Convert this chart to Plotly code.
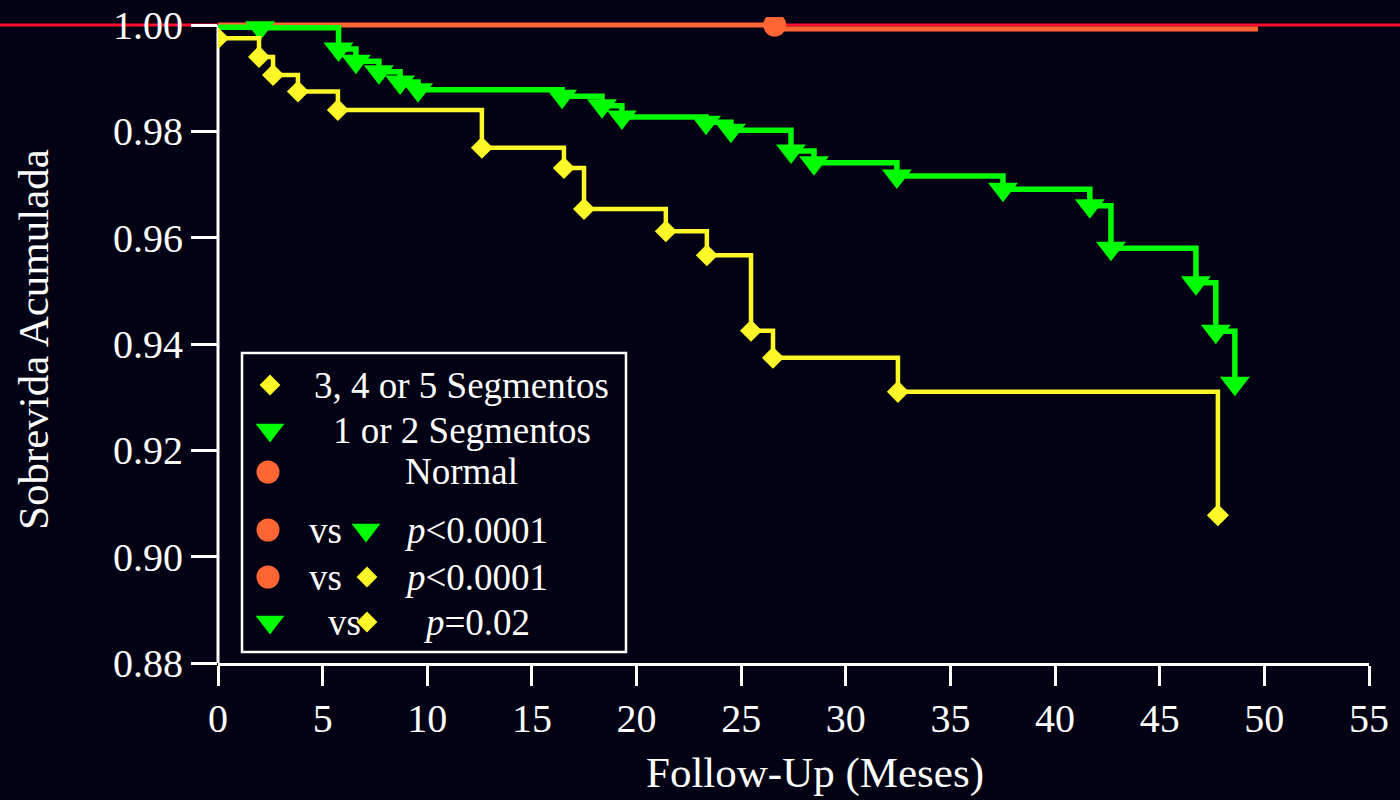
import plotly.graph_objects as go

# ---------------- data ----------------
# 3, 4 or 5 Segmentos (Kaplan-Meier steps)
seg345_time = [0.0, 1.96, 2.63, 3.82, 5.73, 12.61, 16.53, 17.49, 21.40, 23.36, 25.47, 26.52, 32.49, 47.78]
seg345_surv = [0.9975, 0.9940, 0.9906, 0.9875, 0.9840, 0.9769, 0.9731, 0.9654, 0.9612, 0.9567, 0.9425, 0.9374, 0.9310, 0.9078]

# 1 or 2 Segmentos
seg12_time = [0.0, 2.01, 5.76, 6.59, 7.69, 8.70, 9.56, 16.44, 18.35, 19.30, 23.32, 24.51, 27.38, 28.48,
              32.44, 37.51, 41.66, 42.67, 46.73, 47.68, 48.59]
seg12_surv = [0.9996, 0.9995, 0.9955, 0.9932, 0.9912, 0.9893, 0.9878, 0.9866, 0.9848, 0.9827, 0.9817, 0.9802,
              0.9763, 0.9741, 0.9716, 0.9691, 0.9660, 0.9580, 0.9515, 0.9424, 0.9326]

# Normal
normal_time = [0.0, 26.6, 49.7]
normal_surv = [1.0, 1.0, 0.99925]

x_ticks = [0, 5, 10, 15, 20, 25, 30, 35, 40, 45, 50, 55]
y_ticks = [0.88, 0.90, 0.92, 0.94, 0.96, 0.98, 1.00]
y_tick_text = ["0.88", "0.90", "0.92", "0.94", "0.96", "0.98", "1.00"]

legend_rows = ["3, 4 or 5 Segmentos", "1 or 2 Segmentos", "Normal"]
comparisons = ["<i>p</i>&lt;0.0001", "<i>p</i>&lt;0.0001", "<i>p</i>=0.02"]

# ---------------- style ----------------
BG = "#020214"
WHITE = "#ffffff"
YELLOW = "#fff828"
GREEN = "#00ff00"
ORANGE = "#ff6633"
RED = "#ff1030"
FONT = "Liberation Serif, Times New Roman, serif"

W, H = 1400, 800
L, R, T, B = 218, 31, 17, 137
PW, PH = W - L - R, H - T - B
Y0 = 0.88
Y_PER_PX = 0.12 / 638.0
Y1 = Y0 + PH * Y_PER_PX


def px(xpix):
    return (xpix - L) / PW


def py(ypix):
    return (H - B - ypix) / PH


def yval_paper(v):
    return (v - Y0) / (Y1 - Y0)


fig = go.Figure()

fig.add_trace(go.Scatter(
    x=normal_time, y=normal_surv, mode="lines+markers", line_shape="vh",
    line=dict(color=ORANGE, width=5),
    marker=dict(symbol="circle", color=ORANGE, size=[0, 23, 0], opacity=1, line=dict(width=0)),
    hoverinfo="skip", showlegend=False))

fig.add_trace(go.Scatter(
    x=seg12_time, y=seg12_surv, mode="lines+markers", line_shape="hv",
    line=dict(color=GREEN, width=5.5),
    marker=dict(symbol="triangle-down", color=GREEN, opacity=1, line=dict(width=0),
                size=[0] + [26] * (len(seg12_time) - 1)),
    hoverinfo="skip", showlegend=False))

fig.add_trace(go.Scatter(
    x=seg345_time, y=seg345_surv, mode="lines+markers", line_shape="hv",
    line=dict(color=YELLOW, width=4.5),
    marker=dict(symbol="diamond", color=YELLOW, size=17, opacity=1, line=dict(width=0)),
    hoverinfo="skip", showlegend=False))

# ---------- custom legend (overlay paper-like axes) ----------
row_y = [385, 430, 472, 530, 577, 622]
leg_marks = [
    (270, row_y[0], "diamond", YELLOW, 16),
    (270, row_y[1], "triangle-down", GREEN, 25),
    (268, row_y[2], "circle", ORANGE, 23),
    (268, row_y[3], "circle", ORANGE, 23),
    (366, row_y[3], "triangle-down", GREEN, 25),
    (268, row_y[4], "circle", ORANGE, 23),
    (367, row_y[4], "diamond", YELLOW, 16),
    (270, row_y[5], "triangle-down", GREEN, 25),
    (367, row_y[5], "diamond", YELLOW, 16),
]
fig.add_trace(go.Scatter(
    x=[px(m[0]) for m in leg_marks], y=[py(m[1]) for m in leg_marks],
    mode="markers", xaxis="x2", yaxis="y2",
    marker=dict(symbol=[m[2] for m in leg_marks], color=[m[3] for m in leg_marks],
                size=[m[4] for m in leg_marks], opacity=1, line=dict(width=0)),
    hoverinfo="skip", showlegend=False))

shapes = [
    # red reference line at 1.00, across the whole figure
    dict(type="line", xref="paper", yref="paper", x0=px(0), x1=px(W),
         y0=yval_paper(1.0), y1=yval_paper(1.0), line=dict(color=RED, width=3), layer="below"),
    # y axis line from 0.88 to 1.00
    dict(type="line", xref="paper", yref="paper", x0=0, x1=0,
         y0=0, y1=yval_paper(1.0), line=dict(color=WHITE, width=3), layer="below"),
    # legend box
    dict(type="rect", xref="paper", yref="paper", x0=px(242), x1=px(626),
         y0=py(652), y1=py(353), line=dict(color=WHITE, width=2.5), fillcolor=BG, layer="below"),
]

ann = []
leg_font = dict(family=FONT, size=37, color=WHITE)
for i, txt in enumerate(legend_rows):
    ann.append(dict(xref="paper", yref="paper", x=px(461.5), y=py(row_y[i]), text=txt,
                    showarrow=False, xanchor="center", yanchor="middle", font=leg_font))
vs_x = [325, 325, 344]
p_x = [402, 402, 421]
for j in range(3):
    ann.append(dict(xref="paper", yref="paper", x=px(vs_x[j]), y=py(row_y[3 + j]), text="vs",
                    showarrow=False, xanchor="center", yanchor="middle", font=leg_font))
    ann.append(dict(xref="paper", yref="paper", x=px(p_x[j]), y=py(row_y[3 + j]), text=comparisons[j],
                    showarrow=False, xanchor="left", yanchor="middle", font=leg_font))

# axis titles
ann.append(dict(xref="paper", yref="paper", x=px(815), y=py(773), text="Follow-Up (Meses)",
                showarrow=False, xanchor="center", yanchor="middle",
                font=dict(family=FONT, size=43, color=WHITE)))
ann.append(dict(xref="paper", yref="paper", x=px(33), y=py(340), text="Sobrevida Acumulada",
                showarrow=False, xanchor="center", yanchor="middle", textangle=-90,
                font=dict(family=FONT, size=43, color=WHITE)))

fig.update_layout(
    template="none",
    width=W, height=H,
    margin=dict(l=L, r=R, t=T, b=B, autoexpand=False),
    paper_bgcolor=BG, plot_bgcolor=BG,
    font=dict(family=FONT, color=WHITE, size=40),
    shapes=shapes, annotations=ann,
    xaxis=dict(range=[0, 55], tickvals=x_ticks, ticktext=[str(v) for v in x_ticks],
               showgrid=False, zeroline=False, showline=True, linecolor=WHITE, linewidth=3,
               ticks="outside", ticklen=20, tickwidth=3, tickcolor=WHITE, automargin=False,
               tickfont=dict(family=FONT, size=40, color=WHITE), ticklabelstandoff=-2),
    yaxis=dict(range=[Y0, Y1], tickvals=y_ticks, ticktext=y_tick_text,
               showgrid=False, zeroline=False, showline=False, automargin=False,
               ticks="outside", ticklen=26, tickwidth=3, tickcolor=WHITE,
               tickfont=dict(family=FONT, size=40, color=WHITE)),
    xaxis2=dict(range=[0, 1], overlaying="x", visible=False, automargin=False),
    yaxis2=dict(range=[0, 1], overlaying="y", visible=False, automargin=False),
)

fig.write_html("out.html")
